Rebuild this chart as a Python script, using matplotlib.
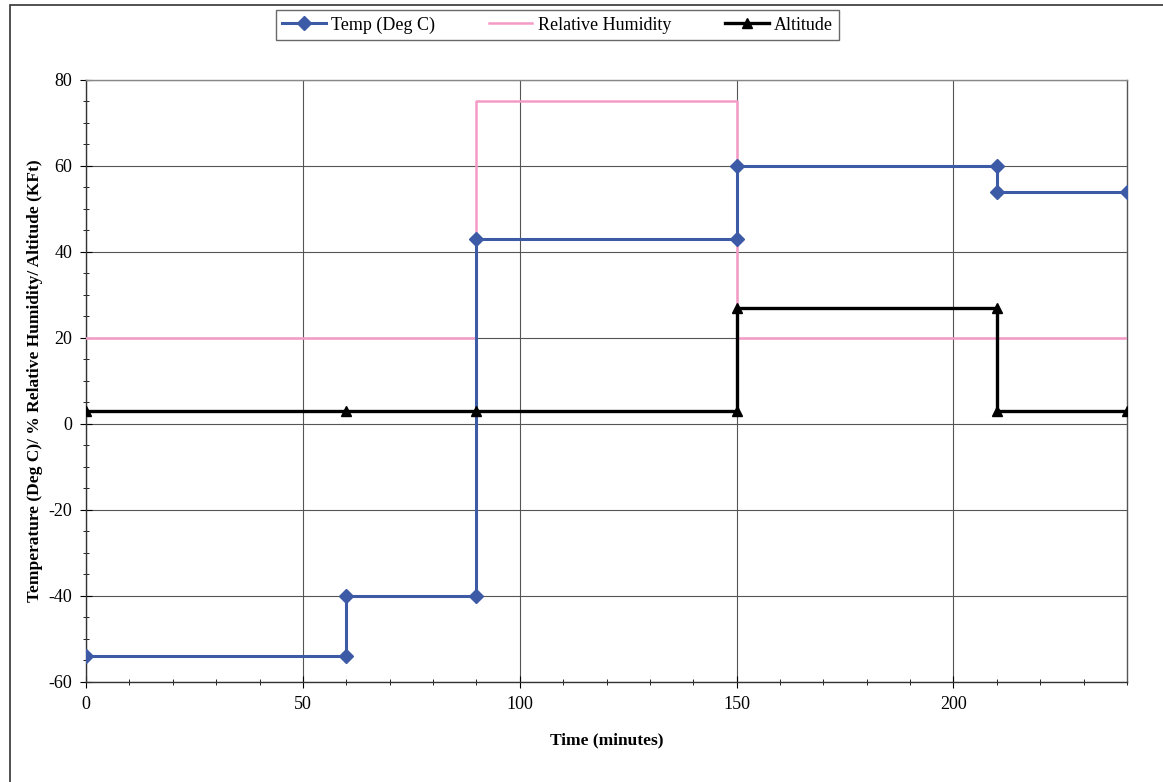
import matplotlib
matplotlib.use("Agg")
import matplotlib.pyplot as plt
from matplotlib.patches import Rectangle
from matplotlib.ticker import MultipleLocator

plt.rcParams['font.family'] = ['Liberation Serif', 'DejaVu Serif']
plt.rcParams['axes.unicode_minus'] = False

temp_t = [0, 60, 60, 90, 90, 150, 150, 210, 210, 240]
temp_v = [-54, -54, -40, -40, 43, 43, 60, 60, 54, 54]
rh_t = [0, 90, 90, 150, 150, 240]
rh_v = [20, 20, 75, 75, 20, 20]
alt_t = [0, 60, 90, 150, 150, 210, 210, 240]
alt_v = [3, 3, 3, 3, 27, 27, 3, 3]

fig = plt.figure(figsize=(11.63, 7.82), dpi=100)
ax = fig.add_axes([0.074, 0.128, 0.895, 0.77])

ax.plot(temp_t, temp_v, color='#3D5AA6', lw=2.2, marker='D', ms=7, label='Temp (Deg C)', zorder=4)
ax.plot(rh_t, rh_v, color='#F49AC6', lw=1.8, label='Relative Humidity', zorder=3)
ax.plot(alt_t, alt_v, color='black', lw=2.4, marker='^', ms=7, label='Altitude', zorder=5)

ax.set_xlim(0, 240)
ax.set_ylim(-60, 80)
ax.xaxis.set_major_locator(MultipleLocator(50))
ax.xaxis.set_minor_locator(MultipleLocator(10))
ax.yaxis.set_major_locator(MultipleLocator(20))
ax.yaxis.set_minor_locator(MultipleLocator(5))
ax.grid(True, which='major', color='#555555', lw=0.8)
ax.tick_params(which='both', direction='inout', labelsize=13)
ax.tick_params(which='major', length=8, pad=6)
ax.tick_params(which='minor', length=5)
for s in ax.spines.values():
    s.set_color('#333333')
    s.set_linewidth(1.0)
ax.spines['top'].set_color('#888888')
ax.spines['right'].set_color('#555555')

ax.set_xlabel('Time (minutes)', fontsize=12.5, fontweight='bold', labelpad=14)
ax.set_ylabel('Temperature (Deg C)/ % Relative Humidity/ Altitude (KFt)', fontsize=12.5,
              fontweight='bold', labelpad=4)

leg = fig.legend(loc='center', bbox_to_anchor=(0.4795, 0.968), ncol=3, fontsize=13,
                 frameon=True, fancybox=False, edgecolor='#444444', handlelength=2.4,
                 columnspacing=3.0, borderpad=0.35, handletextpad=0.3)
leg.get_frame().set_linewidth(1.0)

fig.patches.append(Rectangle((10 / 1163, -0.2), 1.5, 1.2 - 5 / 782, transform=fig.transFigure,
                             fill=False, edgecolor='#333333', lw=1.2))

fig.savefig('out.png', dpi=100)
